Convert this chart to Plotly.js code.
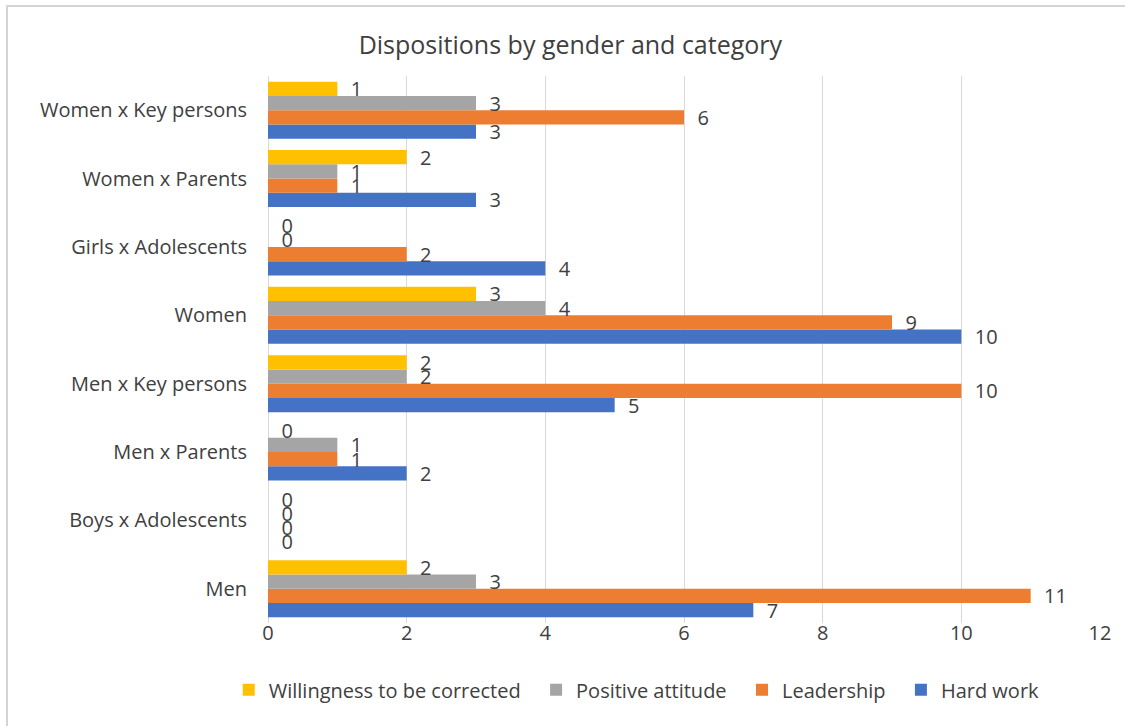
<!DOCTYPE html>
<html>
<head>
<meta charset="utf-8">
<script src="https://cdn.plot.ly/plotly-3.0.1.min.js"></script>
<style>
  html, body { margin: 0; padding: 0; background: #ffffff; }
  #wrap { position: relative; width: 1125px; height: 726px; overflow: hidden; }
  #chart { position: absolute; left: 0; top: 0; width: 1125px; height: 726px; }
  #frame { position: absolute; left: 6px; top: 5px; width: 1200px; height: 800px;
           border-left: 2px solid #d4d4d4; border-top: 2px solid #d4d4d4; pointer-events: none; }
</style>
</head>
<body>
<div id="wrap">
  <div id="chart"></div>
  <div id="frame"></div>
</div>
<script>
// Categories listed bottom to top
const categories = [
  "Men",
  "Boys x Adolescents",
  "Men x Parents",
  "Men x Key persons",
  "Women",
  "Girls x Adolescents",
  "Women x Parents",
  "Women x Key persons"
];
const hardWork    = [7, 0, 2, 5, 10, 4, 3, 3];
const leadership  = [11, 0, 1, 10, 9, 2, 1, 6];
const positive    = [3, 0, 1, 2, 4, 0, 1, 3];
const willingness = [2, 0, 0, 2, 3, 0, 2, 1];

const seriesNames  = ["Hard work", "Leadership", "Positive attitude", "Willingness to be corrected"];
const seriesValues = [hardWork, leadership, positive, willingness];
const seriesColors = ["#4472C4", "#ED7D31", "#A5A5A5", "#FFC000"];

const xTicks = [0, 2, 4, 6, 8, 10, 12];

const FONT = "'Open Sans', 'Noto Sans', sans-serif";
const TXT = "#404040";
const NB = "\u00a0";

const traces = seriesNames.map((name, i) => ({
  type: "bar",
  orientation: "h",
  name: i === 0 ? name : name + NB + NB,
  y: categories,
  x: seriesValues[i],
  marker: { color: seriesColors[i], line: { width: 0 } },
  text: seriesValues[i].map(v => NB + NB + v),
  textposition: "outside",
  constraintext: "none",
  cliponaxis: false,
  textfont: { family: FONT, size: 20, color: TXT },
  hoverinfo: "x+y"
}));

const layout = {
  width: 1125,
  height: 726,
  paper_bgcolor: "#ffffff",
  plot_bgcolor: "#ffffff",
  margin: { l: 268, r: 25, t: 76, b: 103 },
  font: { family: FONT, size: 20, color: TXT },
  title: {
    text: "Dispositions by gender and category",
    font: { family: FONT, size: 25, color: TXT },
    x: 0.507, xref: "container", xanchor: "center",
    y: 0.938, yref: "container", yanchor: "middle"
  },
  barmode: "group",
  bargap: 0.165,
  bargroupgap: 0,
  xaxis: {
    range: [0, 12],
    tickvals: xTicks,
    ticktext: xTicks.map(String),
    showgrid: true,
    gridcolor: "#d9d9d9",
    gridwidth: 1,
    zeroline: true,
    zerolinecolor: "#d9d9d9",
    zerolinewidth: 1,
    showline: false,
    ticks: "",
    ticklabelstandoff: -4,
    tickfont: { family: FONT, size: 20, color: TXT },
    fixedrange: true
  },
  yaxis: {
    type: "category",
    categoryorder: "array",
    categoryarray: categories,
    showgrid: false,
    zeroline: false,
    showline: false,
    ticks: "",
    ticklabelstandoff: 20,
    tickfont: { family: FONT, size: 20, color: TXT },
    fixedrange: true
  },
  showlegend: true,
  legend: {
    orientation: "h",
    traceorder: "reversed",
    x: 0.566, xref: "container", xanchor: "center",
    y: 0.05, yref: "container", yanchor: "middle",
    font: { family: FONT, size: 20, color: TXT },
    itemclick: false,
    itemdoubleclick: false
  }
};

Plotly.newPlot("chart", traces, layout, { displayModeBar: false, staticPlot: true });
</script>
</body>
</html>
